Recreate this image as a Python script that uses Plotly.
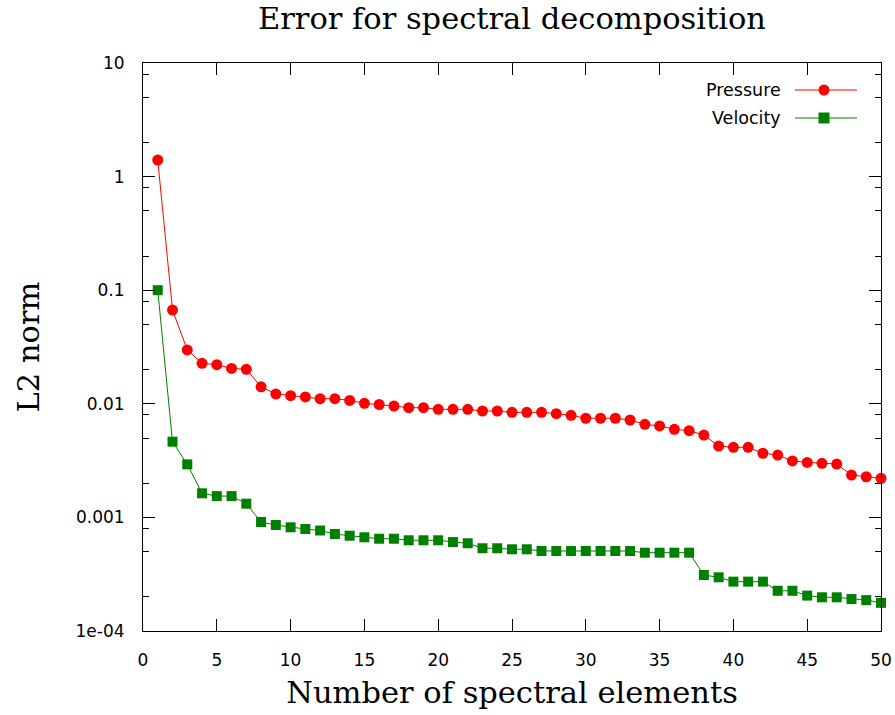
import plotly.graph_objects as go

elements = list(range(1, 51))
pressure = [1.40, 0.0669, 0.0298, 0.0227, 0.0221, 0.0205, 0.0201, 0.0141, 0.0122, 0.0118,
            0.0115, 0.0111, 0.0111, 0.0107, 0.0101, 0.00986, 0.00956, 0.00924, 0.00924, 0.00894,
            0.00894, 0.00894, 0.00864, 0.00864, 0.00841, 0.00841, 0.00841, 0.00818, 0.00792, 0.00746,
            0.00746, 0.00746, 0.00720, 0.00660, 0.00638, 0.00596, 0.00580, 0.00531, 0.00425, 0.00414,
            0.00414, 0.00367, 0.00354, 0.00314, 0.00305, 0.00299, 0.00295, 0.00236, 0.00228, 0.00221]
velocity = [0.100, 0.00464, 0.00293, 0.00163, 0.00154, 0.00154, 0.00132, 0.000911, 0.000857, 0.000818,
            0.000790, 0.000767, 0.000714, 0.000690, 0.000668, 0.000649, 0.000649, 0.000629, 0.000629, 0.000629,
            0.000607, 0.000592, 0.000535, 0.000535, 0.000524, 0.000524, 0.000506, 0.000506, 0.000506, 0.000506,
            0.000506, 0.000506, 0.000506, 0.000489, 0.000489, 0.000489, 0.000489, 0.000311, 0.000297, 0.000272,
            0.000272, 0.000272, 0.000226, 0.000226, 0.000205, 0.000198, 0.000198, 0.000191, 0.000187, 0.000177]

y_tickvals = [10, 1, 0.1, 0.01, 0.001, 0.0001]
y_ticktext = ["10", "1", "0.1", "0.01", "0.001", "1e-04"]
y_minor = [m * 10.0 ** e for e in range(-4, 1) for m in (2, 5, 8)]
x_tickvals = list(range(0, 51, 5))

series_names = ["Pressure", "Velocity"]
series_colors = ["#ff0000", "#008000"]
series_symbols = ["circle", "square"]

SANS = "DejaVu Sans"
SERIF = "DejaVu Serif"

fig = go.Figure()
fig.add_trace(go.Scatter(x=elements, y=pressure, mode="lines+markers", name=series_names[0],
                         line=dict(color=series_colors[0], width=1),
                         marker=dict(symbol=series_symbols[0], size=11, color=series_colors[0]),
                         cliponaxis=False, showlegend=False))
fig.add_trace(go.Scatter(x=elements, y=velocity, mode="lines+markers", name=series_names[1],
                         line=dict(color=series_colors[1], width=1),
                         marker=dict(symbol=series_symbols[1], size=10, color=series_colors[1]),
                         cliponaxis=False, showlegend=False))

W, H = 895, 715
L, R, T, B = 143, 14, 63, 84

axis_common = dict(showline=True, linecolor="black", linewidth=1, mirror="ticks",
                   ticks="inside", ticklen=12, tickwidth=1, tickcolor="black",
                   showgrid=False, zeroline=False,
                   tickfont=dict(family=SANS, size=17, color="black"))

fig.update_xaxes(range=[0, 50], tickmode="array", tickvals=x_tickvals,
                 ticklabelstandoff=14,
                 title=dict(text="Number of spectral elements", standoff=12,
                            font=dict(family=SERIF, size=30.5, color="black")),
                 **axis_common)
fig.update_yaxes(type="log", range=[-4, 1], tickmode="array", tickvals=y_tickvals,
                 ticktext=y_ticktext, ticklabelstandoff=14,
                 minor=dict(tickmode="array", tickvals=y_minor, ticks="inside", ticklen=6,
                            tickcolor="black", tickwidth=1, showgrid=False),
                 title=dict(text="L2 norm", standoff=26,
                            font=dict(family=SERIF, size=30.5, color="black")),
                 **axis_common)

fig.update_layout(
    width=W, height=H,
    margin=dict(l=L, r=R, t=T, b=B, autoexpand=False),
    paper_bgcolor="white", plot_bgcolor="white",
    title=dict(text="Error for spectral decomposition", x=(L + (W - R)) / 2 / W, xanchor="center",
               y=1 - 18 / H, yanchor="middle", yref="container",
               font=dict(family=SERIF, size=30.5, color="black")),
)

# Custom legend (text left of sample, gnuplot style)
pw, ph = W - L - R, H - T - B
def px_to_paper(xp, yp):
    return (xp - L) / pw, 1 - (yp - T) / ph

legend_rows = [90, 118]
for name, color, sym, yp in zip(series_names, series_colors, series_symbols, legend_rows):
    tx, ty = px_to_paper(783, yp)
    fig.add_annotation(x=tx, y=ty, xref="paper", yref="paper", text=name, showarrow=False,
                       xanchor="right", yanchor="middle", font=dict(family=SANS, size=17.5, color="black"))
    x0, yy = px_to_paper(795, yp)
    x1, _ = px_to_paper(857, yp)
    fig.add_shape(type="line", x0=x0, x1=x1, y0=yy, y1=yy, xref="paper", yref="paper",
                  line=dict(color=color, width=1))
    cx, cy = px_to_paper(824, yp)
    r = 5.5
    fig.add_shape(type="circle" if sym == "circle" else "rect",
                  x0=cx - r / pw, x1=cx + r / pw, y0=cy - r / ph, y1=cy + r / ph,
                  xref="paper", yref="paper", fillcolor=color, line=dict(width=0))

fig.write_html("out.html")
